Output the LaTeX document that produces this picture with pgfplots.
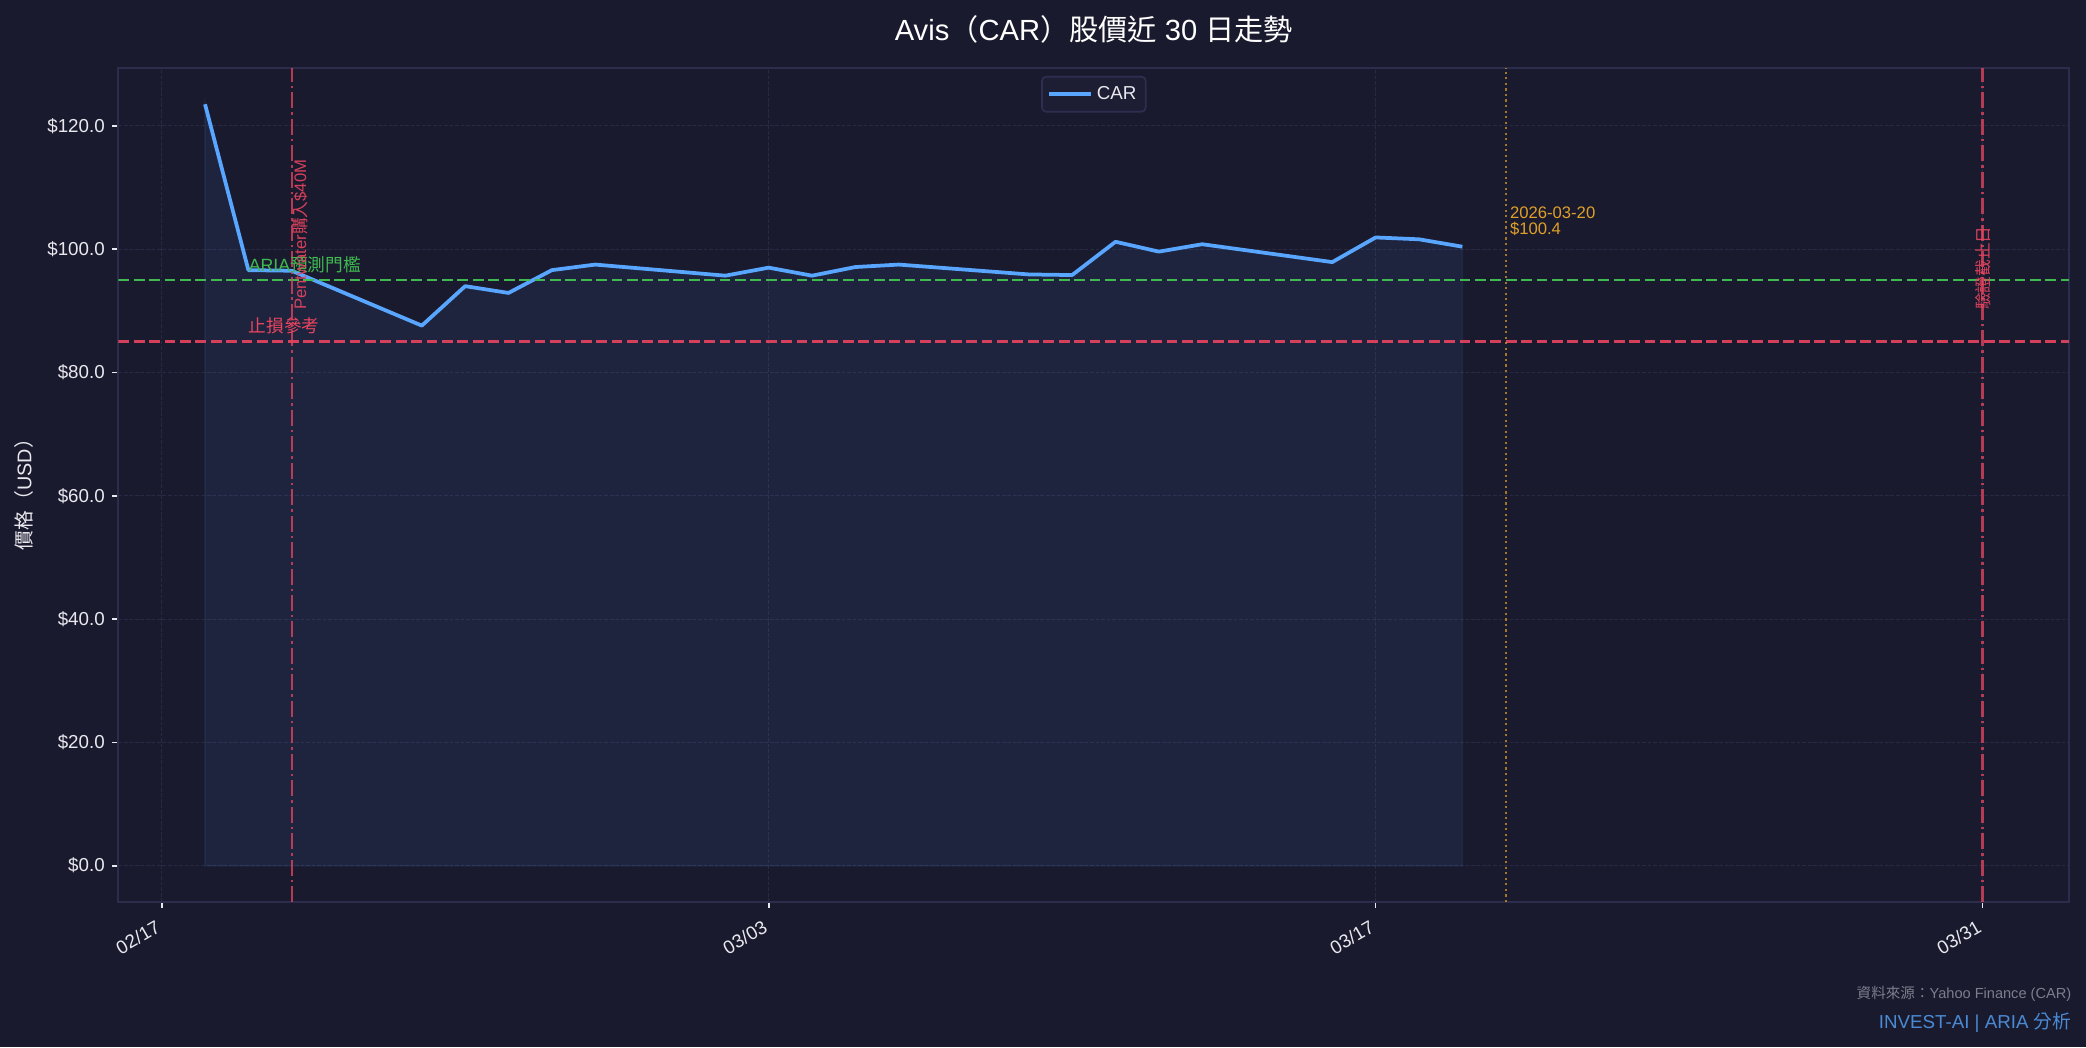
\documentclass[border=0pt]{standalone}
\usepackage{fontspec}
\setmainfont{Liberation Sans}
\newfontfamily\cjk{Noto Sans CJK TC}
\usepackage{pgfplots}
\pgfplotsset{compat=1.18}
\definecolor{figbg}{RGB}{26,26,46}
\definecolor{spine}{RGB}{44,44,76}
\definecolor{gridc}{RGB}{40,42,68}
\definecolor{linec}{RGB}{88,166,255}
\definecolor{greenc}{RGB}{63,185,80}
\definecolor{redc}{RGB}{233,69,96}
\definecolor{goldc}{RGB}{224,160,40}
\definecolor{txt}{RGB}{232,232,238}
\definecolor{foot}{RGB}{125,125,140}
\definecolor{brand}{RGB}{74,138,212}
\definecolor{legbg}{RGB}{29,29,52}
\definecolor{legbd}{RGB}{46,46,80}
\newcommand\zh[1]{{\cjk #1}}
\begin{document}
\begin{tikzpicture}
\path[use as bounding box, fill=figbg] (-56.8pt,-69.6pt) rectangle (944.5pt,433pt);
\begin{axis}[
  at={(0,0)}, anchor=south west,
  scale only axis, width=936.5pt, height=400.4pt,
  xmin=-1, xmax=44, ymin=-5.9, ymax=129.4,
  axis background/.style={fill=figbg},
  axis line style={spine, line width=1pt},
  xtick={0,14,28,42}, xticklabels={02/17,03/03,03/17,03/31},
  ytick={0,20,40,60,80,100,120},
  yticklabels={\$0.0,\$20.0,\$40.0,\$60.0,\$80.0,\$100.0,\$120.0},
  tick pos=left, tick align=outside, major tick length=3pt,
  tick style={txt, line width=0.8pt},
  xticklabel style={xshift=-2.5pt, yshift=-2.5pt, rotate=30, anchor=north east, font=\fontsize{9}{10}\selectfont, text=txt, inner sep=2pt},
  yticklabel style={font=\fontsize{9}{10}\selectfont, text=txt},
  grid=major,
  major grid style={gridc, line width=0.5pt, dash pattern=on 1.85pt off 0.8pt},
  legend style={at={(0.5,0.9904)}, anchor=north, fill=legbg, draw=legbd, rounded corners=2pt,
    text=txt, font=\fontsize{9}{10}\selectfont, inner xsep=2.5pt, inner ysep=2.5pt, line width=0.8pt},
]
\addplot[fill=linec, draw=linec, opacity=0.08, line width=0.8pt, forget plot] coordinates {
(1,0) (1,123.5) (2,96.6) (3,96.5) (6,87.6) (7,94.0) (8,92.9) (9,96.6) (10,97.5)
(13,95.7) (14,97.0) (15,95.7) (16,97.1) (17,97.5) (20,95.9) (21,95.8) (22,101.2)
(23,99.6) (24,100.8) (27,97.9) (28,101.9) (29,101.6) (30,100.4) (30,0)} -- cycle;
\addplot[linec, line width=1.8pt, line join=round,
  legend image code/.code={\draw (0pt,0pt) -- (20pt,0pt);}] coordinates {
(1,123.5) (2,96.6) (3,96.5) (6,87.6) (7,94.0) (8,92.9) (9,96.6) (10,97.5)
(13,95.7) (14,97.0) (15,95.7) (16,97.1) (17,97.5) (20,95.9) (21,95.8) (22,101.2)
(23,99.6) (24,100.8) (27,97.9) (28,101.9) (29,101.6) (30,100.4)};
\addlegendentry{CAR}
\addplot[greenc, line width=1.4pt, dash pattern=on 5.2pt off 2.2pt, forget plot] coordinates {(-1,95) (44,95)};
\addplot[redc, line width=1.4pt, dash pattern=on 5.2pt off 2.2pt, forget plot, opacity=0.9] coordinates {(-1,85) (44,85)};
\addplot[redc, opacity=0.75, line width=1.2pt, dash pattern=on 7.7pt off 1.9pt on 1.2pt off 1.9pt, forget plot] coordinates {(3,-5.9) (3,129.4)};
\addplot[redc, opacity=0.75, line width=1.2pt, dash pattern=on 7.7pt off 1.9pt on 1.2pt off 1.9pt, forget plot] coordinates {(42,-5.9) (42,129.4)};
\addplot[goldc, opacity=0.7, line width=1pt, dash pattern=on 1pt off 1.65pt, forget plot] coordinates {(31,-5.9) (31,129.4)};
\node[anchor=base west, text=greenc, font=\fontsize{8.5}{9}\selectfont, inner sep=0pt] at (axis cs:2,96.3) {ARIA\zh{預測門檻}};
\node[anchor=base west, text=redc, font=\fontsize{8.5}{9}\selectfont, inner sep=0pt] at (axis cs:2,86.5) {\zh{止損參考}};
\node[rotate=90, anchor=north west, text=redc, opacity=0.9, font=\fontsize{8}{9}\selectfont, inner sep=0pt] at (axis cs:3,90.1) {Pentwater\zh{購入}\$40M};
\node[rotate=90, anchor=west, text=redc, opacity=0.9, font=\fontsize{8}{9}\selectfont, inner sep=0pt] at (axis cs:42,90.1) {\zh{驗證截止日}};
\node[anchor=north west, align=left, text=goldc, font=\fontsize{8}{8}\selectfont, inner sep=0pt] at (axis cs:31.09,107.0) {2026-03-20\\\$100.4};
\end{axis}
\node[text=white, font=\fontsize{14}{16}\selectfont] at (468.25pt,419pt) {Avis\zh{（}CAR\zh{）股價近} 30 \zh{日走勢}};
\node[rotate=90, text=txt, font=\fontsize{9.5}{11}\selectfont] at (-45.3pt,198pt) {\zh{價格（}USD\zh{）}};
\node[anchor=base east, text=foot, font=\fontsize{7}{8}\selectfont, inner sep=0pt] at (937.6pt,-46.1pt) {\zh{資料來源：}Yahoo Finance (CAR)};
\node[anchor=base east, text=brand, font=\fontsize{9}{10}\selectfont, inner sep=0pt] at (937.6pt,-60.5pt) {INVEST-AI | ARIA \zh{分析}};
\end{tikzpicture}
\end{document}
